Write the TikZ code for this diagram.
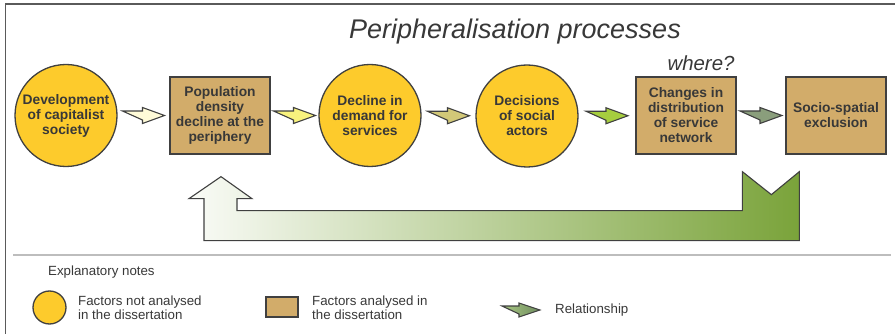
\documentclass[tikz,border=0pt]{standalone}
\usepackage{fontspec}
\setmainfont{Liberation Sans}
\usepackage{tikz}
\usetikzlibrary{calc}
\definecolor{factoryellow}{HTML}{FDCB2C}
\definecolor{factortan}{HTML}{D2AC6A}
\definecolor{edgegray}{HTML}{404040}
\definecolor{textgray}{HTML}{383838}
\definecolor{framegray}{HTML}{5A5A5A}
\definecolor{sepgray}{HTML}{BDBDBD}
\definecolor{arrowA}{HTML}{FFFBD8}
\definecolor{arrowB}{HTML}{F8F27E}
\definecolor{arrowC}{HTML}{D2C878}
\definecolor{arrowD}{HTML}{A6CE3E}
\definecolor{arrowE}{HTML}{8A9E7C}
\definecolor{loopgreen}{HTML}{7AA33A}
\definecolor{legendlight}{HTML}{A9C883}
\definecolor{legenddark}{HTML}{6F8C5F}

\begin{document}
\begin{tikzpicture}[x=1pt, y=-1pt,
    notanalysed/.style={circle, draw=edgegray, line width=1.3pt, fill=factoryellow, minimum size=102pt, inner sep=0pt, align=center, text=textgray, font=\fontsize{13.8}{15}\selectfont\bfseries},
    analysed/.style={rectangle, draw=edgegray, line width=1.3pt, fill=factortan, minimum width=100pt, minimum height=77pt, inner sep=0pt, align=center, text=textgray, font=\fontsize{13.8}{15}\selectfont\bfseries},
    relline/.style={draw=edgegray, line width=1.1pt, line join=miter},
    legendtext/.style={anchor=west, inner sep=0pt, align=left, text=textgray, font=\fontsize{13.3}{14}\selectfont}]
    \useasboundingbox (0,0) rectangle (895,334);

    % Frame and separator
    \draw[framegray, line width=1.2pt] (895,4) -- (5.5,4) -- (5.5,334);
    \draw[sepgray, line width=2pt] (13,255) -- (891,255);

    % Title
    \node[text=textgray, font=\fontsize{27}{30}\selectfont\itshape] (title) at (515,32) {Peripheralisation processes};
    \node[text=textgray, font=\fontsize{20.4}{24}\selectfont\itshape] (where) at (701,63) {where?};

    % Factors
    \node[notanalysed] (dev) at (66,115.5) {Development\\of capitalist\\society};
    \node[analysed] (pop) at (220,115.5) {Population\\density\\decline at the\\periphery};
    \node[notanalysed] (dem) at (370,115.5) {Decline in\\demand for\\services};
    \node[notanalysed] (act) at (527,116) {Decisions\\of social\\actors};
    \node[analysed] (net) at (686,115.5) {Changes in\\distribution\\of service\\network};
    \node[analysed] (excl) at (836,115.5) {Socio-spatial\\exclusion};

    % Relationships
    \foreach \from/\to/\col [count=\i] in {dev/pop/arrowA, pop/dem/arrowB, dem/act/arrowC, act/net/arrowD, net/excl/arrowE} {
        \coordinate (mid\i) at ($(\from.east)!0.5!(\to.west)$);
        \draw[relline, fill=\col] ($(mid\i)+(-21,-4.5)$) -- ++(20,0) -- ++(0,-3.5) -- ++(22,8) -- ++(-22,8) -- ++(0,-3.5) -- cycle;
    }

    % Feedback loop
    \coordinate (looptip) at ($(pop.south)+(1,22)$);
    \coordinate (loopnotch) at ($(excl.south west)+(-14,40)$);
    \draw[relline, left color=white!96!loopgreen, middle color=loopgreen!40!white, right color=loopgreen]
        ($(looptip)+(-17,64)$) -- ++(0,-42) -- ++(-15,0) -- (looptip) -- ++(31,22) -- ++(-15,0) -- ++(0,12)
        -- ($(loopnotch)+(-29,16)$) -- ++(0,-39) -- (loopnotch) -- ++(28,-23) -- ++(0,69) -- cycle;

    % Legend
    \node[legendtext] (notestitle) at (48,272) {Explanatory notes};
    \node[notanalysed, minimum size=33pt] (legcircle) at (49.5,307.5) {};
    \node[legendtext] (legcircletext) at (78,308) {Factors not analysed\\in the dissertation};
    \node[analysed, minimum width=32pt, minimum height=20pt] (legbox) at (282,307) {};
    \node[legendtext] (legboxtext) at (312,308) {Factors analysed in\\the dissertation};
    \coordinate (legarrow) at (521,310);
    \draw[relline, left color=legendlight, right color=legenddark] ($(legarrow)+(-19,-4)$) -- ++(17,0) -- ++(0,-3) -- ++(21,7) -- ++(-21,7) -- ++(0,-3) -- cycle;
    \node[legendtext] (legarrowtext) at (555,310) {Relationship};

\end{tikzpicture}
\end{document}
